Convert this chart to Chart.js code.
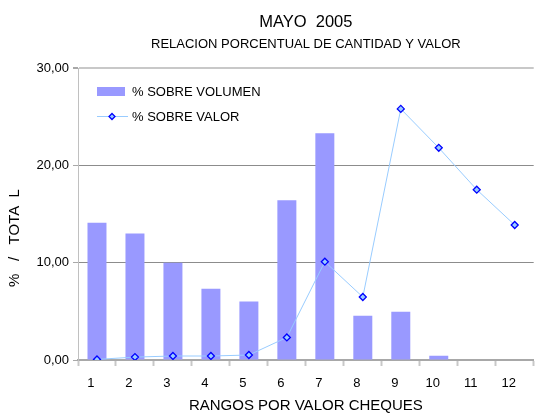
<!DOCTYPE html>
<html>
<head>
<meta charset="utf-8">
<script src="https://cdn.jsdelivr.net/npm/chart.js@4/dist/chart.umd.min.js"></script>
<style>
html,body{margin:0;padding:0;background:#fff;overflow:hidden;}
canvas{display:block;}
</style>
</head>
<body>
<canvas id="c" width="539" height="413"></canvas>
<script>
const categories = ["1","2","3","4","5","6","7","8","9","10","11","12"];
const volumen = [14.1, 13.0, 10.0, 7.33, 6.0, 16.4, 23.3, 4.55, 4.96, 0.44, 0, 0];
const valor = [0.06, 0.3, 0.41, 0.41, 0.51, 2.32, 10.1, 6.47, 25.8, 21.8, 17.5, 13.87];
const seriesLabels = ["% SOBRE VOLUMEN", "% SOBRE VALOR"];
const yTicks = [0, 10, 20, 30];
const titleText = "MAYO  2005";
const subtitleText = "RELACION PORCENTUAL DE CANTIDAD Y VALOR";
const xTitle = "RANGOS POR VALOR CHEQUES";
const yTitle = "%   /   TOTA  L";

const FONT = "'Liberation Sans', Arial, Helvetica, sans-serif";
const BAR = "#9999ff";
const LINE = "#99ccff";
const MARK = "#0000ff";

const extrasPlugin = {
  id: 'extras',
  afterDraw(chart) {
    const ctx = chart.ctx;
    const ds = chart.data.datasets;
    const barDs = ds.find(d => d.type === 'bar');
    const lineDs = ds.find(d => d.type === 'line');
    ctx.save();
    ctx.font = "13px " + FONT;
    ctx.textAlign = "left";
    ctx.textBaseline = "middle";
    // bar entry
    ctx.fillStyle = BAR;
    ctx.fillRect(97, 87, 28, 9);
    ctx.fillStyle = "#000";
    ctx.fillText(barDs.label, 132, 92);
    // line entry
    ctx.strokeStyle = LINE;
    ctx.lineWidth = 1;
    ctx.beginPath();
    ctx.moveTo(97, 116.5);
    ctx.lineTo(128, 116.5);
    ctx.stroke();
    ctx.beginPath();
    ctx.moveTo(112, 113.5); ctx.lineTo(115, 116.5); ctx.lineTo(112, 119.5); ctx.lineTo(109, 116.5); ctx.closePath();
    ctx.fillStyle = LINE; ctx.fill();
    ctx.strokeStyle = MARK; ctx.lineWidth = 1.3; ctx.stroke();
    ctx.fillStyle = "#000";
    ctx.fillText(lineDs.label, 132, 117);
    // y axis title
    ctx.save();
    ctx.translate(15, 238);
    ctx.rotate(-Math.PI / 2);
    ctx.font = "15px " + FONT;
    ctx.textAlign = "center";
    ctx.textBaseline = "middle";
    ctx.fillStyle = "#000";
    ctx.fillText(yTitle, 0, 0);
    ctx.restore();
    ctx.restore();
  }
};

new Chart(document.getElementById('c'), {
  type: 'bar',
  data: {
    labels: categories,
    datasets: [
      {
        type: 'line',
        label: seriesLabels[1],
        data: valor,
        borderColor: LINE,
        borderWidth: 1,
        backgroundColor: LINE,
        pointStyle: 'rectRot',
        pointRadius: 3.5,
        pointBackgroundColor: LINE,
        pointBorderColor: MARK,
        pointBorderWidth: 1.3,
        tension: 0,
        order: 0
      },
      {
        type: 'bar',
        label: seriesLabels[0],
        data: volumen,
        backgroundColor: BAR,
        borderWidth: 0,
        barPercentage: 0.5,
        categoryPercentage: 1.0,
        order: 1
      }
    ]
  },
  options: {
    responsive: false,
    animation: false,
    layout: { padding: 0 },
    plugins: {
      legend: { display: false },
      tooltip: { enabled: false },
      title: {
        display: true,
        text: titleText,
        fullSize: false,
        color: "#000",
        font: { family: FONT, size: 16.5, weight: 'normal', lineHeight: 1 },
        padding: { top: 13.75, bottom: 0 }
      },
      subtitle: {
        display: true,
        text: subtitleText,
        fullSize: false,
        color: "#000",
        font: { family: FONT, size: 13, weight: 'normal', lineHeight: 1 },
        padding: { top: 7.25, bottom: 17.5 }
      }
    },
    scales: {
      x: {
        offset: true,
        afterFit: (s) => { s.height = 53; },
        grid: {
          offset: true,
          drawOnChartArea: false,
          drawTicks: true,
          tickLength: 6,
          tickColor: "#c8c8c8",
          tickWidth: 2,
          color: "#c8c8c8"
        },
        border: { display: true, color: "#a8a8a8", width: 2 },
        ticks: {
          color: "#000",
          font: { family: FONT, size: 13 },
          padding: 10,
          labelOffset: -6,
          maxRotation: 0,
          autoSkip: false
        },
        title: {
          display: true,
          text: xTitle,
          color: "#000",
          font: { family: FONT, size: 15, lineHeight: 1 },
          padding: { top: 0, bottom: 0 }
        }
      },
      y: {
        min: 0,
        max: 30,
        afterFit: (s) => { s.width = 78; },
        afterBuildTicks: (s) => { s.ticks = yTicks.map(v => ({ value: v })); },
        grid: {
          color: (c) => c.tick && c.tick.value === 30 ? "#c8c8c8" : (c.tick && c.tick.value === 0 ? "#a8a8a8" : "#8c8c8c"),
          lineWidth: (c) => c.tick && c.tick.value === 30 ? 2 : 1,
          tickLength: 5,
          tickColor: "#a8a8a8",
          drawTicks: true
        },
        border: { display: true, color: "#c0c0c0", width: 1 },
        ticks: {
          color: "#000",
          font: { family: FONT, size: 13 },
          padding: 4,
          callback: (v) => Number(v).toFixed(2).replace('.', ',')
        },
        title: { display: false }
      }
    }
  },
  plugins: [extrasPlugin]
});
</script>
</body>
</html>
